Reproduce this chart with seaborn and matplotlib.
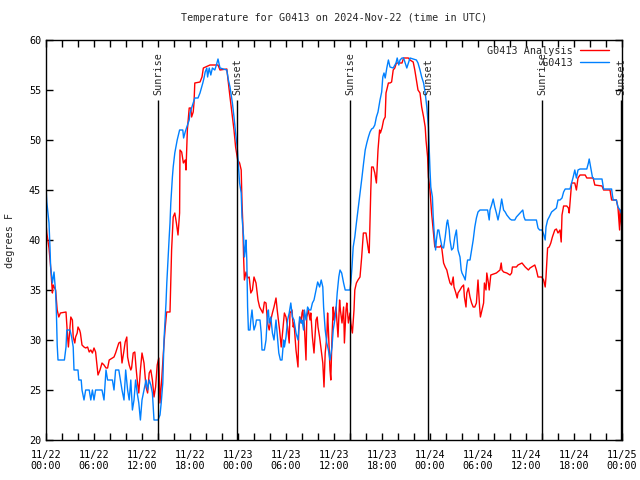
import matplotlib
matplotlib.use("Agg")
import matplotlib.pyplot as plt
import matplotlib.dates as mdates
import numpy as np
import pandas as pd
import seaborn as sns

START = "2024-11-22 00:00"

# G0413 Analysis (red) - hours since start, degrees F
analysis_hours = [0.0, 0.1, 0.375, 0.58, 0.8, 0.9, 1.2, 1.4, 1.6, 1.8, 2.5, 2.7, 2.8, 2.9, 3.1, 3.3, 3.4, 3.6, 3.7, 3.9,
    4.0, 4.2, 4.3, 4.5, 4.75, 4.96, 5.2, 5.4, 5.6, 5.8, 6.0, 6.2, 6.4, 6.5, 6.75, 7.0, 7.25, 7.5, 7.7, 7.9,
    8.5, 8.7, 8.9, 9.1, 9.3, 9.5, 9.7, 9.9, 10.1, 10.2, 10.4, 10.6, 10.7, 10.9, 11.1, 11.25, 11.4, 11.6, 11.8, 12.0,
    12.25, 12.5, 12.7, 12.9, 13.1, 13.3, 13.5, 13.7, 13.9, 14.1, 14.25, 14.46, 14.67, 14.875, 15.08, 15.5, 15.7, 15.9, 16.1, 16.3,
    16.5, 16.7, 16.75, 16.96, 17.17, 17.4, 17.5, 17.67, 17.9, 18.1, 18.2, 18.4, 18.5, 18.6, 19.25, 19.5, 19.67, 20.5, 21.5, 21.75,
    22.6, 22.8, 23.0, 23.3, 23.5, 23.7, 23.96, 24.2, 24.4, 24.5, 24.6, 24.7, 24.8, 25.0, 25.2, 25.4, 25.6, 25.8, 26.0, 26.25,
    26.5, 26.7, 26.9, 27.1, 27.3, 27.5, 27.7, 27.9, 28.1, 28.3, 28.5, 28.75, 28.9, 29.2, 29.4, 29.6, 29.8, 30.0, 30.2, 30.4,
    30.5, 30.75, 30.9, 31.0, 31.25, 31.5, 31.6, 31.75, 31.9, 32.0, 32.1, 32.3, 32.5, 32.6, 32.8, 33.0, 33.1, 33.3, 33.5, 33.75,
    33.9, 34.0, 34.2, 34.4, 34.6, 34.75, 34.9, 35.1, 35.2, 35.3, 35.5, 35.6, 35.75, 35.9, 36.0, 36.25, 36.5, 36.7, 36.8, 37.0,
    37.2, 37.3, 37.5, 37.6, 37.8, 38.0, 38.1, 38.3, 38.5, 38.6, 38.8, 39.0, 39.25, 39.46, 39.67, 40.0, 40.3, 40.4, 40.6, 40.7,
    40.9, 41.1, 41.3, 41.5, 41.7, 41.8, 42.0, 42.2, 42.4, 42.5, 42.8, 43.0, 43.2, 43.4, 43.6, 43.8, 44.5, 44.7, 45.3, 45.5,
    45.9, 46.1, 46.3, 46.5, 46.75, 46.96, 47.2, 47.4, 47.5, 47.7, 47.8, 48.0, 48.2, 48.4, 48.6, 49.25, 49.4, 49.5, 49.7, 49.9,
    50.1, 50.3, 50.5, 50.7, 50.9, 51.0, 51.2, 51.4, 51.5, 51.75, 51.96, 52.2, 52.3, 52.5, 52.6, 52.8, 53.0, 53.2, 53.4, 53.6,
    53.8, 54.0, 54.2, 54.3, 54.5, 54.7, 54.8, 55.0, 55.1, 55.3, 55.4, 55.6, 56.3, 56.75, 56.9, 57.0, 57.2, 57.6, 58.0, 58.2,
    58.3, 58.8, 59.0, 59.5, 59.9, 60.3, 60.5, 60.9, 61.1, 61.3, 61.5, 61.96, 62.2, 62.4, 62.5, 62.6, 62.7, 62.9, 63.1, 63.3,
    63.6, 63.8, 64.0, 64.25, 64.4, 64.5, 64.7, 65.1, 65.3, 65.4, 65.5, 65.6, 65.7, 66.1, 66.3, 66.5, 66.75, 67.4, 67.6, 68.4,
    68.6, 69.5, 69.7, 70.5, 70.7, 71.3, 71.5, 71.7, 71.75, 72.0]
analysis_temps = [41.7, 40.7, 39.2, 37.3, 34.7, 35.5, 35.0, 33.0, 32.3, 32.7, 32.8, 30.3, 29.3, 30.3, 32.3, 32.0, 30.3, 29.7, 30.3, 30.7,
    31.3, 31.0, 30.7, 29.5, 29.3, 29.2, 29.3, 28.8, 29.0, 28.7, 29.2, 28.8, 27.3, 26.5, 27.0, 27.7, 27.5, 27.2, 27.2, 28.0,
    28.3, 28.7, 29.2, 29.7, 29.8, 27.7, 28.7, 29.8, 30.3, 28.3, 27.5, 27.0, 27.2, 28.7, 28.8, 27.3, 26.0, 24.7, 27.0, 28.7,
    27.7, 25.3, 24.7, 26.7, 27.0, 26.0, 24.3, 25.3, 27.5, 28.2, 23.7, 26.0, 28.7, 31.0, 32.8, 32.8, 39.0, 42.3, 42.7, 41.7,
    40.5, 42.7, 49.0, 48.8, 47.7, 48.0, 47.0, 51.0, 53.2, 53.2, 52.3, 52.8, 53.7, 55.7, 55.8, 56.3, 57.2, 57.5, 57.5, 57.0,
    57.1, 55.7, 54.3, 52.3, 51.0, 49.3, 48.0, 47.7, 47.0, 43.7, 41.7, 38.3, 36.0, 36.8, 36.2, 36.3, 34.7, 35.0, 36.3, 35.7,
    34.0, 33.3, 33.0, 32.7, 33.8, 33.7, 31.7, 31.0, 32.0, 32.7, 33.3, 34.2, 33.0, 31.0, 29.3, 31.0, 32.7, 32.3, 31.3, 29.7,
    32.7, 33.0, 31.3, 31.7, 29.0, 27.3, 31.0, 32.3, 31.7, 32.7, 33.0, 31.3, 28.0, 32.3, 33.0, 32.0, 32.7, 30.3, 28.7, 32.0,
    32.3, 31.3, 30.3, 29.0, 27.7, 25.3, 28.7, 30.3, 32.7, 31.0, 27.0, 26.0, 30.3, 33.3, 32.0, 33.3, 30.3, 34.0, 33.0, 31.7,
    33.3, 29.7, 33.0, 33.7, 31.7, 32.7, 31.7, 30.7, 33.0, 35.0, 35.7, 36.0, 36.3, 38.3, 40.7, 40.7, 39.0, 38.7, 45.0, 47.3,
    47.3, 46.7, 45.7, 49.0, 51.0, 50.7, 51.2, 52.0, 52.3, 54.7, 55.7, 55.7, 55.8, 57.0, 57.2, 57.7, 57.7, 58.2, 58.2, 58.0,
    57.8, 57.0, 56.0, 55.0, 54.7, 53.3, 52.3, 51.3, 50.0, 48.3, 46.3, 45.0, 42.7, 41.0, 39.3, 39.3, 39.5, 39.0, 37.7, 37.3,
    37.0, 36.3, 35.7, 35.5, 36.3, 35.3, 34.8, 34.2, 34.7, 35.0, 35.3, 35.5, 34.3, 33.3, 34.7, 35.2, 34.3, 33.7, 33.3, 33.3,
    33.7, 36.0, 33.3, 32.3, 33.0, 33.7, 35.7, 35.0, 36.7, 35.7, 35.0, 36.5, 36.7, 37.0, 37.7, 37.0, 36.8, 36.7, 36.5, 36.7,
    37.3, 37.3, 37.5, 37.7, 37.3, 37.0, 37.2, 37.4, 37.5, 37.0, 36.3, 36.3, 36.0, 35.3, 36.3, 37.7, 39.2, 39.3, 39.7, 40.3,
    41.0, 41.1, 40.7, 41.0, 39.8, 42.5, 43.4, 43.4, 43.2, 42.7, 43.7, 44.7, 45.7, 45.7, 45.0, 46.2, 46.5, 46.5, 46.2, 46.2,
    45.5, 45.4, 45.0, 45.0, 44.0, 44.0, 43.2, 41.0, 43.0, 41.0]

# G0413 observations (blue)
station_hours = [0.0, 0.1, 0.375, 0.5, 0.58, 0.8, 1.0, 1.2, 1.3, 1.4, 1.5, 2.3, 2.5, 2.6, 3.0, 3.2, 3.4, 3.5, 4.0, 4.1,
    4.4, 4.5, 4.75, 4.96, 5.4, 5.6, 5.8, 6.0, 6.2, 7.0, 7.25, 7.5, 7.7, 8.3, 8.5, 8.7, 9.1, 9.3, 9.5, 9.75,
    9.96, 10.2, 10.4, 10.6, 10.8, 11.0, 11.2, 11.4, 11.6, 11.8, 12.0, 12.25, 12.5, 12.7, 12.9, 13.1, 13.3, 13.5, 14.0, 14.25,
    14.4, 14.6, 14.75, 15.0, 15.1, 15.2, 15.3, 15.4, 15.5, 15.6, 15.7, 15.8, 15.9, 16.1, 16.4, 16.7, 17.1, 17.2, 17.4, 17.6,
    17.9, 18.0, 18.4, 18.6, 19.0, 19.25, 19.6, 19.75, 19.9, 20.1, 20.2, 20.4, 20.6, 20.8, 21.1, 21.3, 21.5, 21.75, 22.6, 22.8,
    23.0, 23.3, 23.5, 23.7, 23.9, 24.05, 24.2, 24.4, 24.5, 24.7, 24.8, 24.9, 25.0, 25.1, 25.2, 25.3, 25.5, 25.6, 25.75, 25.9,
    26.0, 26.2, 26.3, 26.75, 26.9, 27.0, 27.3, 27.5, 27.7, 27.8, 27.9, 28.1, 28.3, 28.5, 28.75, 28.96, 29.1, 29.3, 29.5, 29.7,
    29.8, 30.0, 30.2, 30.4, 30.6, 30.8, 31.0, 31.25, 31.5, 31.7, 31.9, 32.0, 32.2, 32.3, 32.5, 32.7, 32.9, 33.1, 33.3, 33.5,
    33.75, 33.96, 34.2, 34.4, 34.6, 34.7, 34.9, 35.1, 35.3, 35.5, 35.75, 35.9, 36.1, 36.25, 36.4, 36.6, 36.75, 36.96, 37.2, 37.4,
    38.0, 38.1, 38.25, 38.4, 38.6, 38.8, 39.0, 39.25, 39.5, 39.7, 39.9, 40.1, 40.3, 40.5, 40.7, 40.9, 41.1, 41.3, 41.5, 41.75,
    41.96, 42.1, 42.25, 42.4, 42.6, 42.8, 43.0, 43.4, 43.75, 43.9, 44.1, 44.25, 44.5, 44.7, 44.9, 45.1, 45.3, 45.5, 46.3, 46.5,
    46.75, 46.96, 47.2, 47.4, 47.6, 47.8, 47.9, 48.0, 48.1, 48.3, 48.4, 48.5, 48.7, 48.8, 48.96, 49.1, 49.25, 49.5, 49.7, 49.9,
    50.1, 50.2, 50.4, 50.5, 50.7, 50.9, 51.1, 51.3, 51.5, 51.75, 51.9, 52.0, 52.25, 52.4, 52.6, 52.7, 53.0, 53.2, 53.4, 53.6,
    53.8, 54.0, 54.25, 55.2, 55.4, 55.5, 55.7, 55.9, 56.1, 56.3, 56.5, 56.75, 56.96, 57.2, 57.4, 57.6, 57.8, 58.0, 58.2, 58.6,
    58.8, 59.25, 59.6, 59.75, 59.9, 61.3, 61.5, 61.7, 62.0, 62.2, 62.4, 62.5, 62.7, 62.9, 63.2, 63.5, 63.8, 64.0, 64.25, 64.5,
    64.7, 64.9, 65.5, 65.7, 65.9, 66.1, 66.3, 66.5, 66.75, 67.6, 67.8, 67.9, 68.1, 68.3, 68.5, 69.5, 69.7, 70.7, 70.8, 70.9,
    71.3, 71.5, 71.75, 72.0]
station_temps = [45.3, 43.8, 41.7, 39.2, 37.3, 35.7, 36.8, 34.8, 32.7, 29.5, 28.0, 28.0, 29.3, 31.0, 31.0, 30.3, 29.3, 27.0, 27.0, 26.0,
    26.0, 25.0, 24.0, 25.0, 25.0, 24.0, 25.0, 24.0, 25.0, 25.0, 24.0, 27.0, 26.0, 26.0, 25.0, 27.0, 27.0, 26.0, 25.0, 24.0,
    27.0, 25.0, 24.0, 26.0, 23.0, 24.0, 26.0, 24.7, 23.7, 22.0, 24.0, 25.0, 26.0, 25.0, 26.0, 25.5, 24.7, 22.0, 22.0, 22.5,
    23.7, 25.7, 30.0, 33.7, 35.7, 37.3, 39.0, 40.3, 41.7, 43.7, 45.0, 46.3, 47.3, 48.7, 50.0, 51.0, 51.0, 50.2, 50.8, 51.3,
    52.0, 52.7, 53.7, 54.2, 54.2, 54.7, 55.7, 56.2, 56.8, 57.2, 56.3, 57.2, 56.5, 57.2, 57.0, 57.5, 58.1, 57.2, 57.0, 56.0,
    55.3, 53.7, 52.3, 50.7, 49.3, 47.5, 45.7, 44.7, 42.3, 40.3, 38.3, 39.0, 40.0, 38.0, 33.3, 31.0, 31.0, 32.0, 33.0, 31.7,
    31.0, 31.5, 32.0, 32.0, 30.7, 29.0, 29.0, 30.0, 32.7, 33.0, 31.7, 32.3, 30.7, 30.0, 32.0, 30.0, 28.7, 28.0, 28.0, 30.0,
    29.3, 30.3, 32.0, 32.7, 33.7, 32.3, 32.0, 30.7, 30.0, 32.3, 31.7, 32.0, 31.0, 33.0, 32.0, 33.3, 33.0, 33.0, 33.7, 34.0,
    35.0, 35.8, 35.3, 36.0, 35.3, 33.3, 31.0, 29.7, 29.0, 28.0, 29.3, 31.0, 32.0, 33.0, 34.7, 36.3, 37.0, 36.7, 35.7, 35.0,
    35.0, 35.7, 37.3, 39.3, 40.3, 41.7, 43.0, 44.7, 46.3, 47.7, 49.0, 49.7, 50.3, 50.8, 51.1, 51.2, 51.5, 52.3, 52.8, 54.0,
    54.8, 56.3, 56.7, 56.2, 57.2, 58.0, 57.3, 57.2, 57.7, 58.2, 57.5, 58.0, 58.2, 58.2, 57.7, 57.2, 57.7, 58.2, 58.0, 57.7,
    57.0, 56.3, 55.7, 54.7, 53.3, 51.3, 49.0, 47.0, 45.3, 44.3, 42.3, 41.0, 39.0, 40.0, 41.0, 41.0, 40.3, 39.3, 39.2, 40.3,
    41.7, 42.0, 41.0, 40.0, 39.0, 39.2, 40.3, 41.0, 39.0, 38.3, 37.0, 36.7, 36.3, 36.0, 37.5, 38.0, 38.0, 39.0, 40.0, 41.3,
    42.2, 42.8, 43.0, 43.0, 42.0, 43.0, 43.5, 44.1, 43.3, 42.7, 42.0, 43.0, 44.1, 43.0, 42.8, 42.5, 42.3, 42.1, 42.0, 42.0,
    42.3, 42.7, 43.0, 42.3, 42.0, 42.0, 41.2, 41.0, 41.0, 40.6, 40.0, 41.3, 42.0, 42.3, 42.8, 43.0, 43.2, 44.0, 44.0, 44.2,
    44.8, 45.1, 45.1, 45.7, 46.3, 47.0, 46.2, 47.0, 47.1, 47.1, 47.7, 48.1, 47.2, 46.3, 46.1, 46.1, 45.1, 45.1, 44.5, 44.0,
    44.0, 43.3, 43.0, 42.5]

sun_event_hours = [14.0, 23.9, 38.0, 47.8, 62.0, 71.9]
sun_event_labels = ["Sunrise", "Sunset", "Sunrise", "Sunset", "Sunrise", "Sunset"]

series_names = ["G0413 Analysis", "G0413"]
series_colors = ["#ff0000", "#0080ff"]
title_text = "Temperature for G0413 on 2024-Nov-22 (time in UTC)"
y_label = "degrees F"
y_ticks = [20, 25, 30, 35, 40, 45, 50, 55, 60]

start = pd.Timestamp(START)
def to_time(h):
    return start + pd.to_timedelta(np.asarray(h, dtype=float), unit="h")

df = pd.concat([
    pd.DataFrame({"time": to_time(analysis_hours), "temp": analysis_temps, "series": series_names[0]}),
    pd.DataFrame({"time": to_time(station_hours), "temp": station_temps, "series": series_names[1]}),
], ignore_index=True)

sns.set_style("ticks")
FONT = ["DejaVu Sans Mono"]
plt.rcParams["font.family"] = FONT
FS = 7.3

fig = plt.figure(figsize=(6.4, 4.8), dpi=100)
ax = fig.add_axes([46/640, 40/480, 576/640, 400/480])

for name, color in zip(series_names, series_colors):
    sub = df[df["series"] == name]
    sns.lineplot(data=sub, x="time", y="temp", color=color, lw=1.0, ax=ax,
                 estimator=None, sort=False, label=name.rjust(14))

# sunrise / sunset markers
ev_times = to_time(sun_event_hours)
ax.vlines(ev_times, 20, 54, color="black", lw=1.0)
for t, lab in zip(ev_times, sun_event_labels):
    ax.text(t, 54.5, lab, rotation=90, ha="center", va="bottom", fontsize=FS, clip_on=False)

ax.set_xlim(start, start + pd.Timedelta(hours=72))
ax.set_ylim(20, 60)
ax.set_yticks(y_ticks)
ax.xaxis.set_major_locator(mdates.HourLocator(byhour=range(0, 24, 6)))
ax.xaxis.set_minor_locator(mdates.HourLocator(byhour=range(0, 24, 2)))
ax.xaxis.set_major_formatter(mdates.DateFormatter("%m/%d\n%H:%M"))
ax.tick_params(axis="both", which="both", direction="in", top=True, right=True,
               length=5, width=1.0, labelsize=FS, colors="black")
ax.tick_params(axis="x", which="major", pad=7)
for s in ax.spines.values():
    s.set_linewidth(1.0)
    s.set_color("black")
ax.set_xlabel("")
ax.set_ylabel(y_label, fontsize=FS, labelpad=10)
ax.set_title(title_text, fontsize=FS, pad=14)

leg = ax.legend(loc="upper right", bbox_to_anchor=(0.989, 1.003), frameon=False,
                markerfirst=False, fontsize=FS, handlelength=2.8, handletextpad=0.75,
                labelspacing=0.2, borderpad=0.2)

fig.savefig("out.png", dpi=100)
